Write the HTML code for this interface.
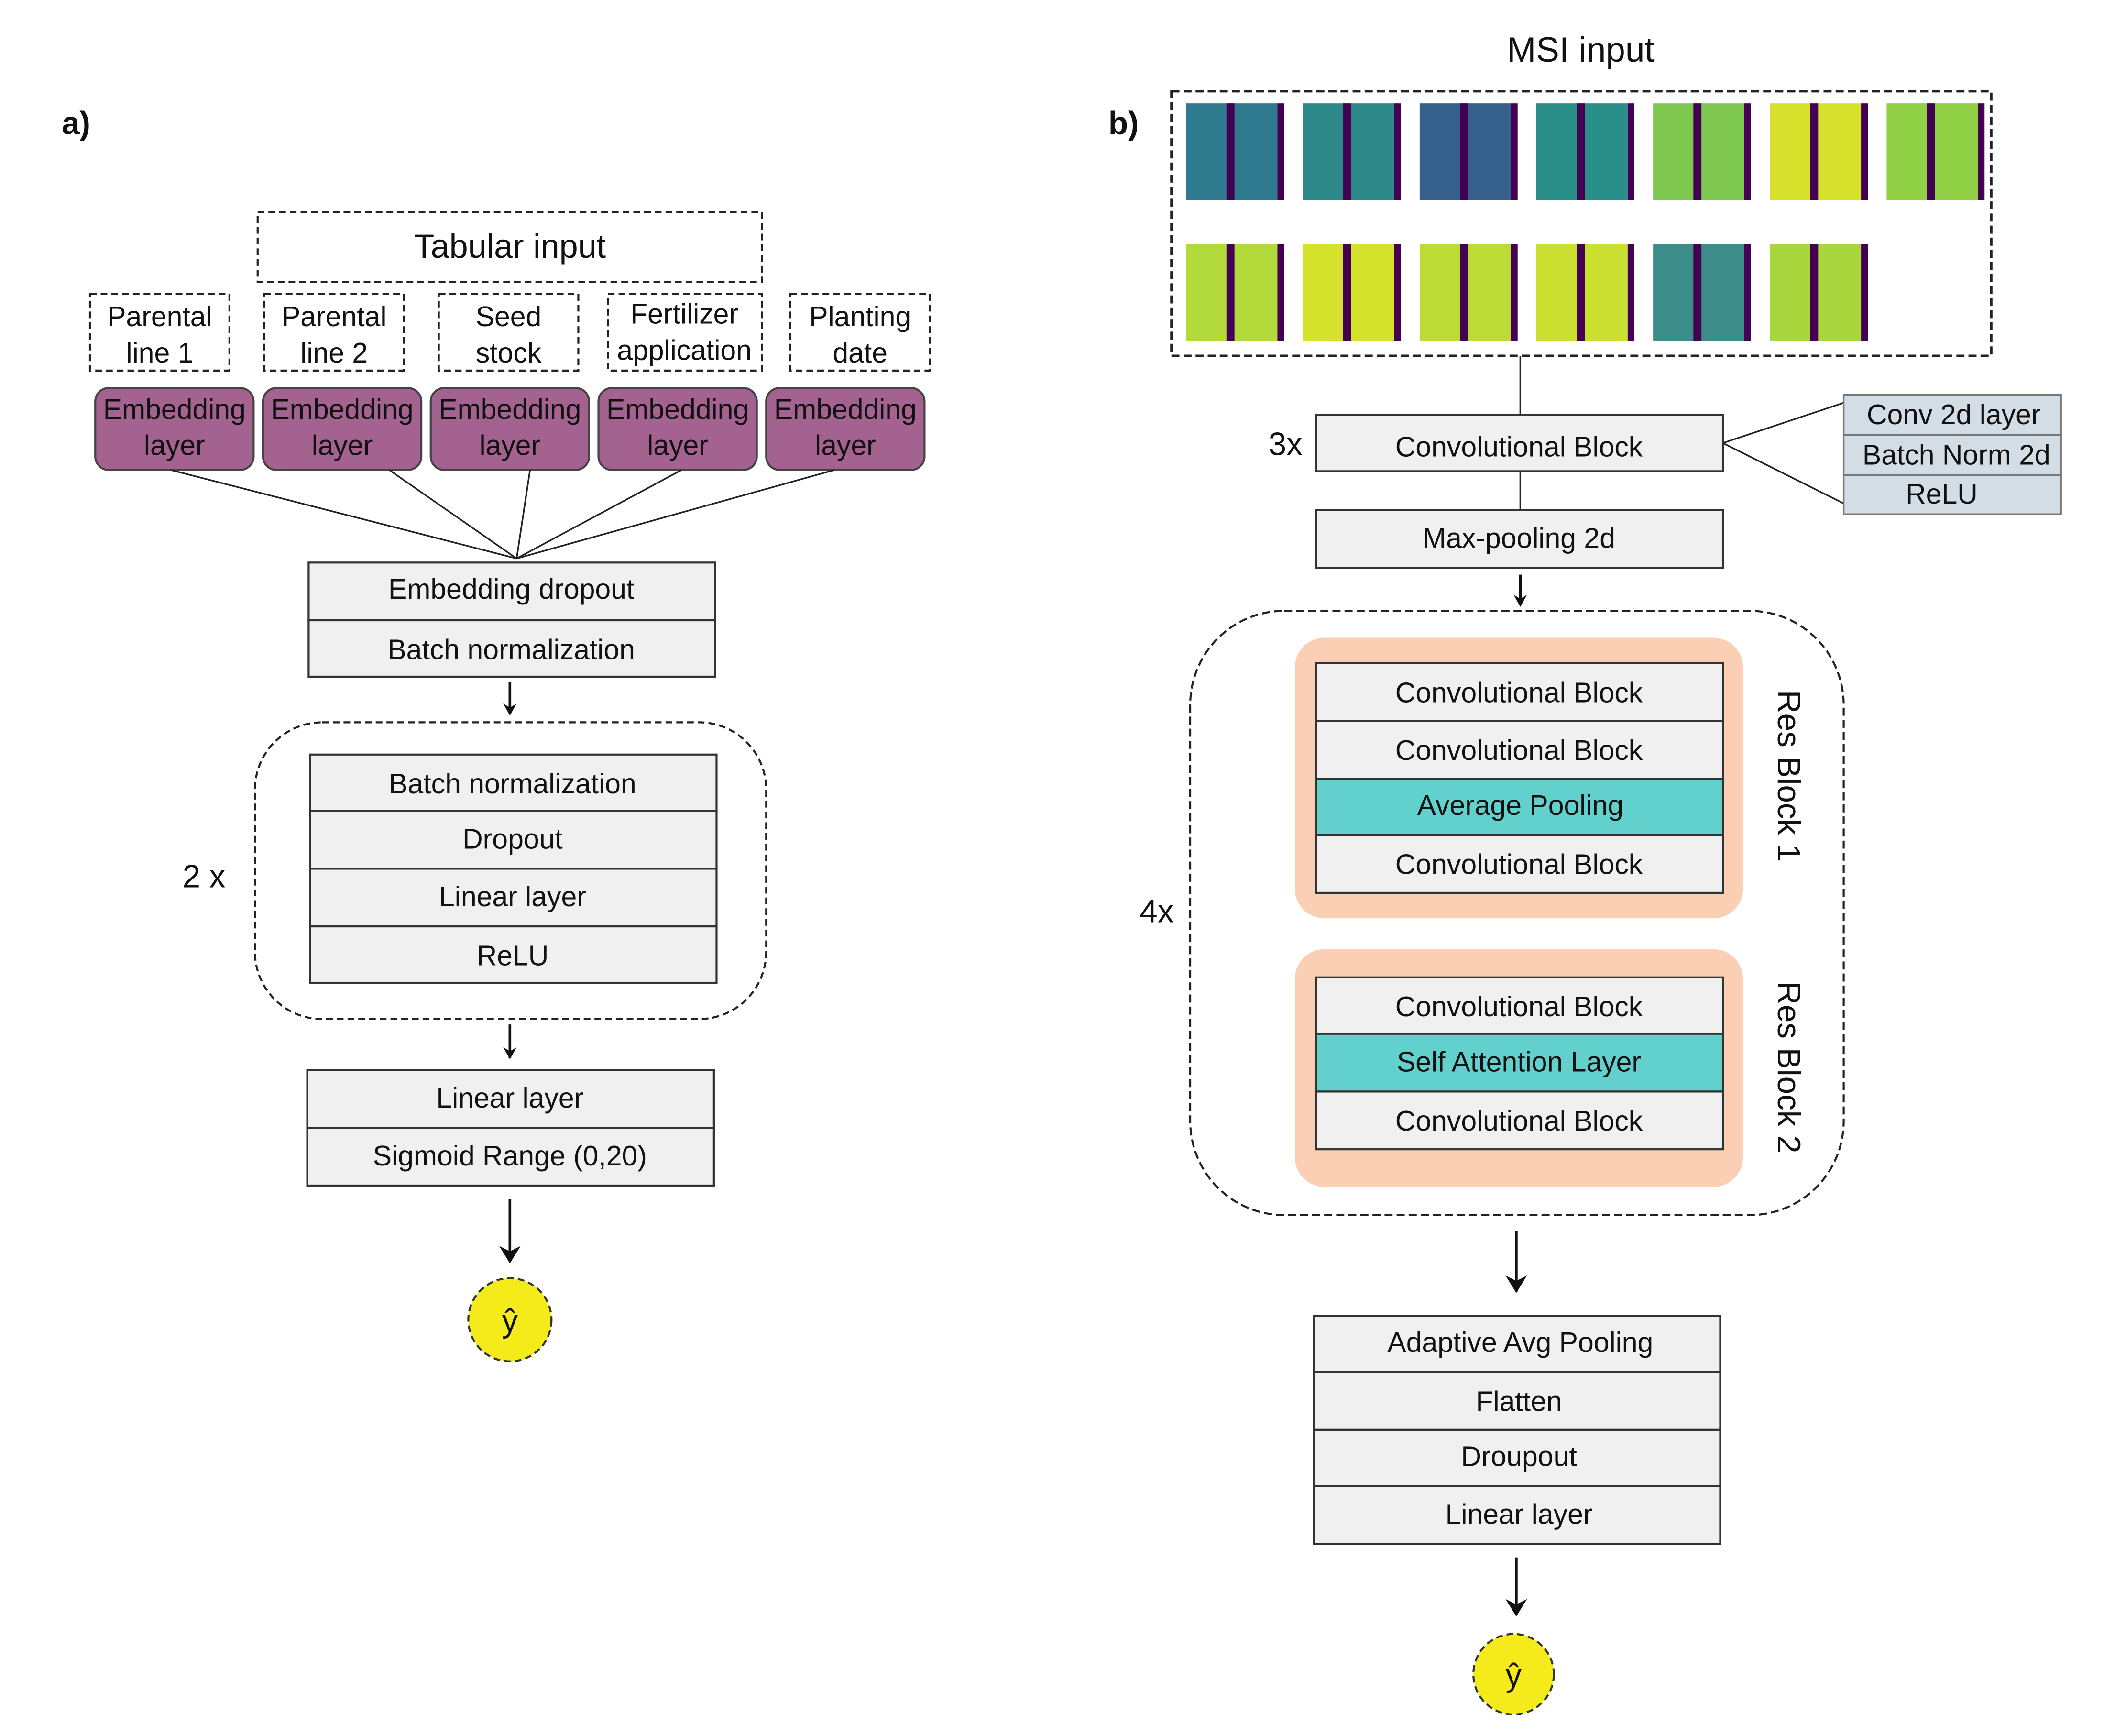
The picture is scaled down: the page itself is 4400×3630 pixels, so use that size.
<!DOCTYPE html>
<html><head><meta charset="utf-8"><style>
html,body{margin:0;padding:0;background:#fff;}
svg{display:block;}
text{font-family:"Liberation Sans",sans-serif;fill:#111;}
</style></head><body>
<svg width="4400" height="3630" viewBox="0 0 1568 1293" preserveAspectRatio="none" xmlns="http://www.w3.org/2000/svg">
<defs>
<marker id="ar" markerWidth="10" markerHeight="10" refX="8" refY="5" orient="auto" markerUnits="userSpaceOnUse"><path d="M0,0 L9,5 L0,10 L3,5 Z" fill="#111"/></marker>
<marker id="ar2" markerWidth="14" markerHeight="16" refX="12" refY="8" orient="auto" markerUnits="userSpaceOnUse"><path d="M0,0 L13,8 L0,16 L4,8 Z" fill="#111"/></marker>
<g id="bars"><rect x="30" width="6" height="72" fill="#440154"/><rect x="68" width="5" height="72" fill="#440154"/></g>
</defs>
<g font-size="21">
<text x="46" y="100" font-weight="bold" font-size="24">a)</text>
<text x="826" y="100" font-weight="bold" font-size="24">b)</text>

<rect x="192" y="158" width="376" height="52" fill="none" stroke="#222" stroke-width="1.5" stroke-dasharray="5,3"/>
<text x="380" y="192" text-anchor="middle" font-size="25">Tabular input</text>
<g fill="none" stroke="#222" stroke-width="1.5" stroke-dasharray="5,3">
<rect x="67" y="219" width="104" height="57"/><rect x="197" y="219" width="104" height="57"/><rect x="327" y="219" width="104" height="57"/><rect x="453" y="219" width="115" height="57"/><rect x="589" y="219" width="104" height="57"/>
</g>
<g text-anchor="middle">
<text x="119" y="243">Parental</text><text x="119" y="270">line 1</text>
<text x="249" y="243">Parental</text><text x="249" y="270">line 2</text>
<text x="379" y="243">Seed</text><text x="379" y="270">stock</text>
<text x="510" y="241">Fertilizer</text><text x="510" y="268">application</text>
<text x="641" y="243">Planting</text><text x="641" y="270">date</text>
</g>
<g fill="#a3628f" stroke="#444" stroke-width="1.5">
<rect x="71" y="289" width="118" height="61" rx="10"/><rect x="196" y="289" width="118" height="61" rx="10"/><rect x="321" y="289" width="118" height="61" rx="10"/><rect x="446" y="289" width="118" height="61" rx="10"/><rect x="571" y="289" width="118" height="61" rx="10"/>
</g>
<g text-anchor="middle">
<text x="130" y="312">Embedding</text><text x="130" y="339">layer</text>
<text x="255" y="312">Embedding</text><text x="255" y="339">layer</text>
<text x="380" y="312">Embedding</text><text x="380" y="339">layer</text>
<text x="505" y="312">Embedding</text><text x="505" y="339">layer</text>
<text x="630" y="312">Embedding</text><text x="630" y="339">layer</text>
</g>
<g stroke="#222" stroke-width="1.2">
<line x1="127" y1="350" x2="385" y2="416"/><line x1="290" y1="350" x2="385" y2="416"/><line x1="395" y1="350" x2="385" y2="416"/><line x1="508" y1="350" x2="385" y2="416"/><line x1="622" y1="350" x2="385" y2="416"/>
</g>
<g fill="#f0f0f0" stroke="#333" stroke-width="1.5">
<rect x="230" y="419" width="303" height="43"/><rect x="230" y="462" width="303" height="42"/>
<rect x="231" y="562" width="303" height="42"/><rect x="231" y="604" width="303" height="43"/><rect x="231" y="647" width="303" height="43"/><rect x="231" y="690" width="303" height="42"/>
<rect x="229" y="797" width="303" height="43"/><rect x="229" y="840" width="303" height="43"/>
</g>
<g text-anchor="middle">
<text x="381" y="446">Embedding dropout</text><text x="381" y="491">Batch normalization</text>
<text x="382" y="591">Batch normalization</text><text x="382" y="632">Dropout</text><text x="382" y="675">Linear layer</text><text x="382" y="719">ReLU</text>
<text x="380" y="825">Linear layer</text><text x="380" y="868">Sigmoid Range (0,20)</text>
</g>
<rect x="190" y="538" width="381" height="221" rx="50" fill="none" stroke="#222" stroke-width="1.5" stroke-dasharray="5,3"/>
<text x="152" y="661" text-anchor="middle" font-size="24">2 x</text>
<g stroke="#111" stroke-width="2">
<line x1="380" y1="508" x2="380" y2="532" marker-end="url(#ar)"/>
<line x1="380" y1="763" x2="380" y2="788" marker-end="url(#ar)"/>
<line x1="380" y1="893" x2="380" y2="940" marker-end="url(#ar2)"/>
<line x1="1133" y1="428" x2="1133" y2="451" marker-end="url(#ar)"/>
<line x1="1130" y1="917" x2="1130" y2="962" marker-end="url(#ar2)"/>
<line x1="1130" y1="1160" x2="1130" y2="1203" marker-end="url(#ar2)"/>
</g>
<circle cx="380" cy="983" r="31" fill="#f5ea1a" stroke="#333" stroke-width="1.5" stroke-dasharray="5,3"/>
<text x="380" y="992" text-anchor="middle" font-size="24">ŷ</text>

<text x="1178" y="46" text-anchor="middle" font-size="26">MSI input</text>
<rect x="873" y="68" width="611" height="197" fill="none" stroke="#222" stroke-width="1.8" stroke-dasharray="6,3"/>
<g>
<g transform="translate(884,77)"><rect width="68" height="72" fill="#2f7a8e"/><use href="#bars"/></g>
<g transform="translate(971,77)"><rect width="68" height="72" fill="#2e8a8a"/><use href="#bars"/></g>
<g transform="translate(1058,77)"><rect width="68" height="72" fill="#35608c"/><use href="#bars"/></g>
<g transform="translate(1145,77)"><rect width="68" height="72" fill="#2b8f89"/><use href="#bars"/></g>
<g transform="translate(1232,77)"><rect width="68" height="72" fill="#7ec850"/><use href="#bars"/></g>
<g transform="translate(1319,77)"><rect width="68" height="72" fill="#d6e22b"/><use href="#bars"/></g>
<g transform="translate(1406,77)"><rect width="68" height="72" fill="#8fd044"/><use href="#bars"/></g>
<g transform="translate(884,182)"><rect width="68" height="72" fill="#b2da3a"/><use href="#bars"/></g>
<g transform="translate(971,182)"><rect width="68" height="72" fill="#d5e22b"/><use href="#bars"/></g>
<g transform="translate(1058,182)"><rect width="68" height="72" fill="#bcdc35"/><use href="#bars"/></g>
<g transform="translate(1145,182)"><rect width="68" height="72" fill="#cadf30"/><use href="#bars"/></g>
<g transform="translate(1232,182)"><rect width="68" height="72" fill="#3c8c89"/><use href="#bars"/></g>
<g transform="translate(1319,182)"><rect width="68" height="72" fill="#a8d63c"/><use href="#bars"/></g>
</g>
<g stroke="#222" stroke-width="1.2">
<line x1="1133" y1="265" x2="1133" y2="309"/><line x1="1133" y1="351" x2="1133" y2="380"/>
<line x1="1284" y1="330" x2="1374" y2="300"/><line x1="1284" y1="330" x2="1374" y2="375"/>
</g>
<g fill="#f0f0f0" stroke="#333" stroke-width="1.5">
<rect x="981" y="309" width="303" height="42"/><rect x="981" y="380" width="303" height="43"/>
</g>
<g fill="#d3dde6" stroke="#777" stroke-width="1.2">
<rect x="1374" y="294" width="162" height="30"/><rect x="1374" y="324" width="162" height="30"/><rect x="1374" y="354" width="162" height="29"/>
</g>
<g text-anchor="middle">
<text x="1132" y="340">Convolutional Block</text><text x="1132" y="408">Max-pooling 2d</text>
<text x="1456" y="316">Conv 2d layer</text><text x="1458" y="346">Batch Norm 2d</text><text x="1447" y="375">ReLU</text>
</g>
<text x="958" y="339" text-anchor="middle" font-size="24">3x</text>
<rect x="887" y="455" width="487" height="450" rx="70" fill="none" stroke="#222" stroke-width="1.5" stroke-dasharray="6,3"/>
<text x="862" y="687" text-anchor="middle" font-size="24">4x</text>
<rect x="965" y="475" width="334" height="209" rx="22" fill="#fbcfb3"/>
<rect x="965" y="707" width="334" height="177" rx="22" fill="#fbcfb3"/>
<g fill="#f0f0f0" stroke="#333" stroke-width="1.5">
<rect x="981" y="494" width="303" height="43"/><rect x="981" y="537" width="303" height="43"/><rect x="981" y="580" width="303" height="42" fill="#62d0cc"/><rect x="981" y="622" width="303" height="43"/>
<rect x="981" y="728" width="303" height="42"/><rect x="981" y="770" width="303" height="43" fill="#62d0cc"/><rect x="981" y="813" width="303" height="43"/>
<rect x="979" y="980" width="303" height="42"/><rect x="979" y="1022" width="303" height="43"/><rect x="979" y="1065" width="303" height="42"/><rect x="979" y="1107" width="303" height="43"/>
</g>
<g text-anchor="middle">
<text x="1132" y="523">Convolutional Block</text><text x="1132" y="566">Convolutional Block</text><text x="1133" y="607">Average Pooling</text><text x="1132" y="651">Convolutional Block</text>
<text x="1132" y="757">Convolutional Block</text><text x="1132" y="798">Self Attention Layer</text><text x="1132" y="842">Convolutional Block</text>
<text x="1133" y="1007">Adaptive Avg Pooling</text><text x="1132" y="1051">Flatten</text><text x="1132" y="1092">Droupout</text><text x="1132" y="1135">Linear layer</text>
</g>
<text transform="translate(1325,578) rotate(90)" text-anchor="middle" font-size="24">Res Block 1</text>
<text transform="translate(1325,795) rotate(90)" text-anchor="middle" font-size="24">Res Block 2</text>
<circle cx="1128" cy="1247" r="30" fill="#f5ea1a" stroke="#333" stroke-width="1.5" stroke-dasharray="5,3"/>
<text x="1128" y="1256" text-anchor="middle" font-size="24">ŷ</text>
</g>
</svg>
</body></html>
